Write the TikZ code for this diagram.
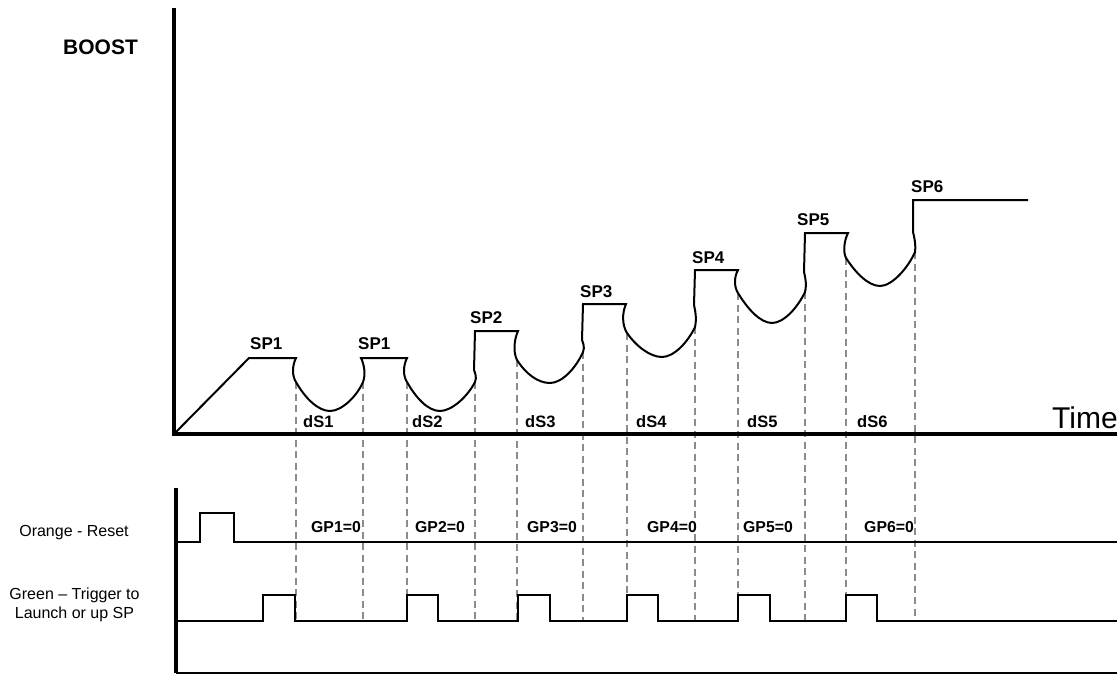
\documentclass[tikz,border=0pt]{standalone}
\usepackage{fontspec}
\setmainfont{Liberation Sans}
\definecolor{guidegray}{RGB}{140,140,140}
\begin{document}
\begin{tikzpicture}[x=1pt,y=-1pt,
  axis/.style={line width=4pt},
  sig/.style={line width=2pt, line join=miter},
  guide/.style={draw=guidegray, line width=1.6pt, dash pattern=on 7pt off 4.5pt},
  splbl/.style={font=\bfseries\fontsize{17}{20}\selectfont, anchor=base west, inner sep=0pt},
  dlbl/.style={font=\bfseries\fontsize{16.5}{20}\selectfont, anchor=base west, inner sep=0pt},
  glbl/.style={font=\bfseries\fontsize{15.8}{19}\selectfont, anchor=base west, inner sep=0pt},
  side/.style={font=\fontsize{16}{19}\selectfont, inner sep=0pt, anchor=base},
]
\useasboundingbox (0,0) rectangle (1117,675);
\fill[white] (0,0) rectangle (1117,675);

% guide lines
\foreach \x/\y [count=\i] in {296/382, 363/382, 407/382, 475/382, 517/360, 583/352,
                              627/333, 695/327, 738/293, 805/292, 846/258, 915/252} {
  \coordinate (t\i) at (\x,\y);
  \coordinate (b\i) at (\x,621);
  \draw[guide] (t\i) -- (b\i);
}

% axes
\coordinate (ytop) at (174,8);
\coordinate (org) at (174,434);
\coordinate (xend) at (1117,434);
\draw[axis] (ytop) -- (org) -- (xend);
\coordinate (ltop) at (176,488);
\coordinate (lorg) at (176,673);
\coordinate (lend) at (1117,673);
\draw[line width=3.5pt] (ltop) -- (lorg);
\draw[line width=2.5pt] (lorg) -- (lend);

% boost curve
\draw[sig] (174,434) -- (249,358) -- (296,358)
  .. controls (292,366) and (292,376) .. (296,382)
  .. controls (305,398) and (318,411) .. (330,411)
  .. controls (342,411) and (357,396) .. (363,382)
  .. controls (366,374) and (364,364) .. (361,358)
  -- (407,358)
  .. controls (403,366) and (403,376) .. (407,382)
  .. controls (416,398) and (428,411) .. (440,411)
  .. controls (452,411) and (468,396) .. (475,382)
  .. controls (477,377) and (475,373) .. (474,370)
  -- (475,331) -- (518,331)
  .. controls (514,340) and (513,352) .. (517,360)
  .. controls (526,374) and (538,383) .. (550,383)
  .. controls (562,383) and (576,368) .. (583,352)
  .. controls (585,347) and (583,343) .. (582,340)
  -- (583,304) -- (626,304)
  .. controls (622,313) and (622,325) .. (627,333)
  .. controls (636,346) and (650,357) .. (662,357)
  .. controls (674,357) and (688,342) .. (695,327)
  .. controls (697,318) and (695,310) .. (694,305)
  -- (695,270) -- (738,270)
  .. controls (734,277) and (734,287) .. (738,293)
  .. controls (747,308) and (760,323) .. (772,323)
  .. controls (784,323) and (798,307) .. (805,292)
  .. controls (807,284) and (805,276) .. (804,272)
  -- (805,233) -- (848,233)
  .. controls (844,241) and (843,252) .. (846,258)
  .. controls (855,272) and (868,286) .. (880,286)
  .. controls (892,286) and (908,268) .. (915,252)
  .. controls (916,244) and (914,236) .. (913,232)
  -- (913,200) -- (1028,200);

% orange reset signal
\draw[sig] (176,542) -- (200,542) -- (200,513) -- (234,513) -- (234,542) -- (1117,542);
% green trigger signal
\draw[sig] (176,621) -- (263,621) -- (263,595) -- (295,595) -- (295,621)
  -- (407,621) -- (407,595) -- (438,595) -- (438,621)
  -- (518,621) -- (518,595) -- (550,595) -- (550,621)
  -- (627,621) -- (627,595) -- (658,595) -- (658,621)
  -- (738,621) -- (738,595) -- (770,595) -- (770,621)
  -- (846,621) -- (846,595) -- (877,595) -- (877,621)
  -- (1117,621);

% labels
\node[font=\bfseries\fontsize{21}{24}\selectfont, anchor=base west, inner sep=0pt] (boost) at (63,54) {BOOST};
\node[font=\fontsize{30}{34}\selectfont, anchor=base west, inner sep=0pt] (time) at (1052,428) {Time};

\node[splbl] (sp1a) at (250,349) {SP1};
\node[splbl] (sp1b) at (358,349) {SP1};
\node[splbl] (sp2) at (470,323) {SP2};
\node[splbl] (sp3) at (580,297) {SP3};
\node[splbl] (sp4) at (692,263) {SP4};
\node[splbl] (sp5) at (797,225) {SP5};
\node[splbl] (sp6) at (911,192) {SP6};

\node[dlbl] (ds1) at (303,427) {dS1};
\node[dlbl] (ds2) at (412,427) {dS2};
\node[dlbl] (ds3) at (525,427) {dS3};
\node[dlbl] (ds4) at (636,427) {dS4};
\node[dlbl] (ds5) at (747,427) {dS5};
\node[dlbl] (ds6) at (857,427) {dS6};

\node[glbl] (gp1) at (311,532) {GP1=0};
\node[glbl] (gp2) at (415,532) {GP2=0};
\node[glbl] (gp3) at (527,532) {GP3=0};
\node[glbl] (gp4) at (647,532) {GP4=0};
\node[glbl] (gp5) at (743,532) {GP5=0};
\node[glbl] (gp6) at (864,532) {GP6=0};

\node[side] (orange) at (74,536) {Orange - Reset};
\node[side] (green1) at (74.5,599) {Green – Trigger to};
\node[side] (green2) at (74.5,618) {Launch or up SP};
\end{tikzpicture}
\end{document}
